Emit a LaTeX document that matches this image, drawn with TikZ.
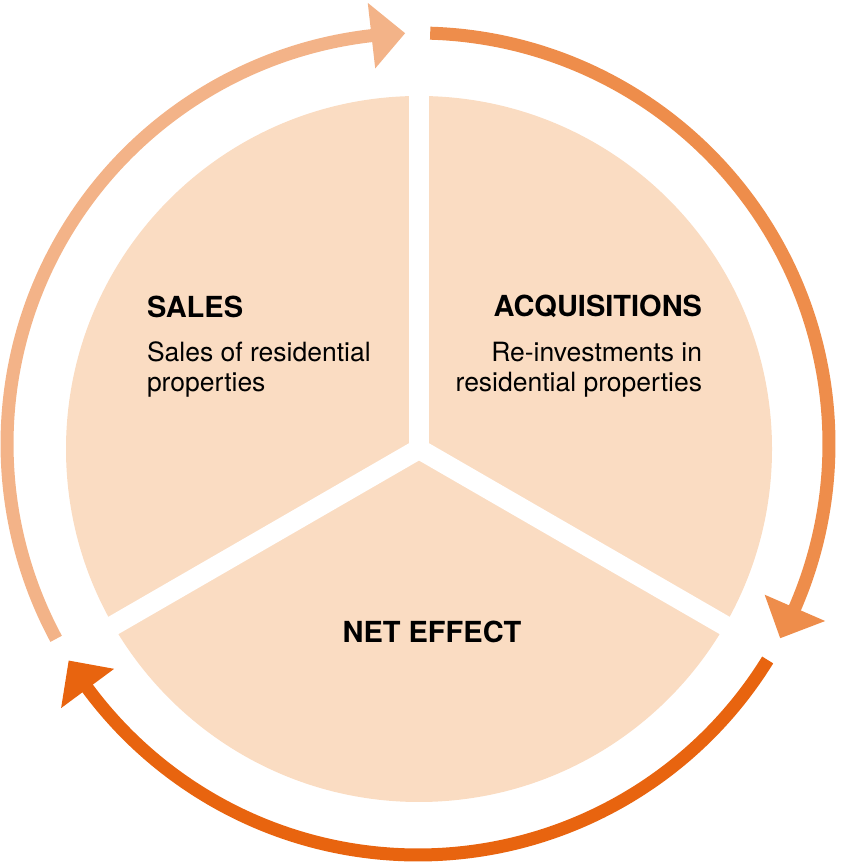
\documentclass[tikz,border=0pt]{standalone}
\usepackage{fontspec}
\setmainfont{TeX Gyre Heros}
\definecolor{piefill}{HTML}{FADCC2}
\definecolor{arrA}{HTML}{F3B388}
\definecolor{arrB}{HTML}{EE8D4B}
\definecolor{arrC}{HTML}{E8640F}
\begin{document}
\begin{tikzpicture}[x=1pt,y=1pt,
  every node/.style={inner sep=0pt, outer sep=0pt, text=black},
  titletext/.style={font=\fontsize{29}{32}\selectfont\bfseries},
  bodytext/.style={font=\fontsize{26.5}{30}\selectfont},
  ring/.style={line width=13, line cap=butt}]
\useasboundingbox (0,0) rectangle (840,866);
% pie
\begin{scope}[shift={(419,417)}]
  \fill[piefill] (0,0) circle[radius=353];
  \foreach \a in {90,-30,210} \draw[white, line width=20] (0,0) -- (\a:380);
  \fill[white] (0,0) circle[radius=10];
\end{scope}
% ring arrows
\begin{scope}[shift={(418,422)}]
  \draw[ring, arrA] (208.3:411) arc[start angle=208.3, end angle=95.5, radius=411];
  \fill[arrA] (96.5:378) -- (96.5:444) -- (91.8:411) -- cycle;
  \draw[ring, arrB] (88.3:411) arc[start angle=88.3, end angle=-24.5, radius=411];
  \fill[arrB] (-23.5:378) -- (-23.5:444) -- (-28.2:411) -- cycle;
  \draw[ring, arrC] (-31.7:411) arc[start angle=-31.7, end angle=-144.5, radius=411];
  \fill[arrC] (-143.5:378) -- (-143.5:444) -- (-148.2:411) -- cycle;
\end{scope}
% texts
\node[titletext, anchor=base west] (salesT) at (147,548) {SALES};
\node[bodytext, anchor=base west] (salesA) at (147,504) {Sales of residential};
\node[bodytext, anchor=base west] (salesB) at (147,474) {properties};
\node[titletext, anchor=base east] (acqT) at (702,549) {ACQUISITIONS};
\node[bodytext, anchor=base east] (acqA) at (702,504) {Re-investments in};
\node[bodytext, anchor=base east] (acqB) at (702,474) {residential properties};
\node[titletext, anchor=base] (netT) at (432,223) {NET EFFECT};
\end{tikzpicture}
\end{document}
